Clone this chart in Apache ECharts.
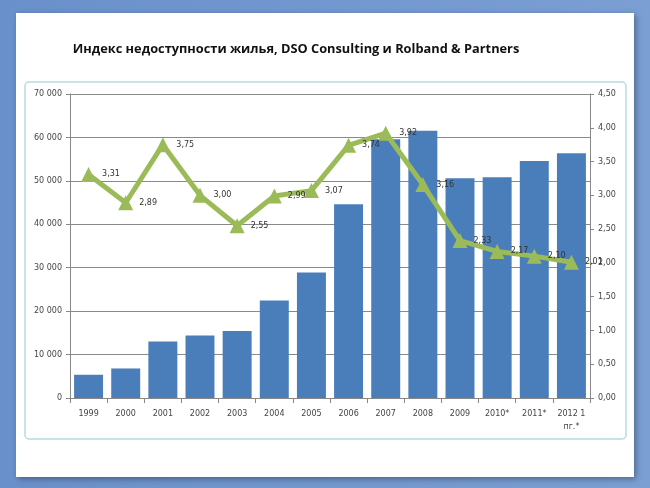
<!DOCTYPE html>
<html><head><meta charset="utf-8">
<script src="https://cdn.jsdelivr.net/npm/echarts@6/dist/echarts.min.js"></script>
<style>html,body{margin:0;padding:0;background:#6f94cc}#c{width:650px;height:488px}</style>
</head><body><div id="c"></div>
<script>
const categories = ['1999','2000','2001','2002','2003','2004','2005','2006','2007','2008','2009','2010*','2011*','2012 1\nпг.*'];
const prices = [5350, 6800, 13000, 14400, 15400, 22450, 28900, 44600, 59600, 61550, 50600, 50850, 54600, 56350];
const index = [3.31, 2.89, 3.75, 3.00, 2.55, 2.99, 3.07, 3.74, 3.92, 3.16, 2.33, 2.17, 2.10, 2.01];
const leftTicks = {min: 0, max: 70000, interval: 10000};
const rightTicks = {min: 0, max: 4.5, interval: 0.5};

const chart = echarts.init(document.getElementById('c'));
const fmtThousands = v => String(v).replace(/\B(?=(\d{3})+(?!\d))/g, ' ');
const fmtComma = v => v.toFixed(2).replace('.', ',');
chart.setOption({
  animation: false,
  backgroundColor: {type:'linear', x:0, y:0, x2:1, y2:0, colorStops:[{offset:0,color:'#6a90cb'},{offset:1,color:'#7b9fd3'}]},
  graphic: [
    {type:'rect', shape:{x:16,y:13,width:618,height:464}, style:{fill:'#ffffff', shadowBlur:6, shadowColor:'rgba(0,0,0,0.35)', shadowOffsetX:2, shadowOffsetY:2}, z:-10},
    {type:'rect', shape:{x:25,y:82,width:601,height:357, r:4}, style:{fill:'#ffffff', stroke:'#b5dbe3', lineWidth:1.5}, z:-9}
  ],
  title: {
    text: 'Индекс недоступности жилья, DSO Consulting и Rolband & Partners',
    left: 291, top: 38, textAlign: 'center',
    textStyle: {fontFamily:'Open Sans', fontWeight:'bold', fontSize:12.8, color:'#111'}
  },
  grid: {left:70, right:60, top:94, bottom:90},
  xAxis: {
    type:'category', data: categories,
    axisLine:{lineStyle:{color:'#888'}},
    axisTick:{show:true, alignWithLabel:false, lineStyle:{color:'#888'}},
    axisLabel:{fontFamily:'DejaVu Sans', fontSize:8, color:'#444', margin:9, lineHeight:13}
  },
  yAxis: [
    {type:'value', min:leftTicks.min, max:leftTicks.max, interval:leftTicks.interval,
     axisLine:{show:true, lineStyle:{color:'#888'}}, axisTick:{show:true, length:4, lineStyle:{color:'#888'}},
     splitLine:{lineStyle:{color:'#8a8a8a'}},
     axisLabel:{fontFamily:'DejaVu Sans', fontSize:8, color:'#444', formatter: fmtThousands, margin:8}},
    {type:'value', min:rightTicks.min, max:rightTicks.max, interval:rightTicks.interval, position:'right',
     axisLine:{show:true, lineStyle:{color:'#888'}}, axisTick:{show:true, length:4, lineStyle:{color:'#888'}},
     splitLine:{show:false},
     axisLabel:{fontFamily:'DejaVu Sans', fontSize:8, color:'#444', formatter: fmtComma, margin:8}}
  ],
  series: [
    {type:'bar', data: prices, yAxisIndex:0, barCategoryGap:'22%',
     itemStyle:{color:'#4a7ebb'}},
    {type:'line', data: index, yAxisIndex:1, symbol:'triangle', symbolSize:15,
     lineStyle:{color:'#9bbb59', width:5}, itemStyle:{color:'#9bbb59'},
     label:{show:true, position:'right', distance:6, formatter: p => fmtComma(p.value),
            fontFamily:'DejaVu Sans', fontSize:8, color:'#333'}}
  ]
});
</script></body></html>
